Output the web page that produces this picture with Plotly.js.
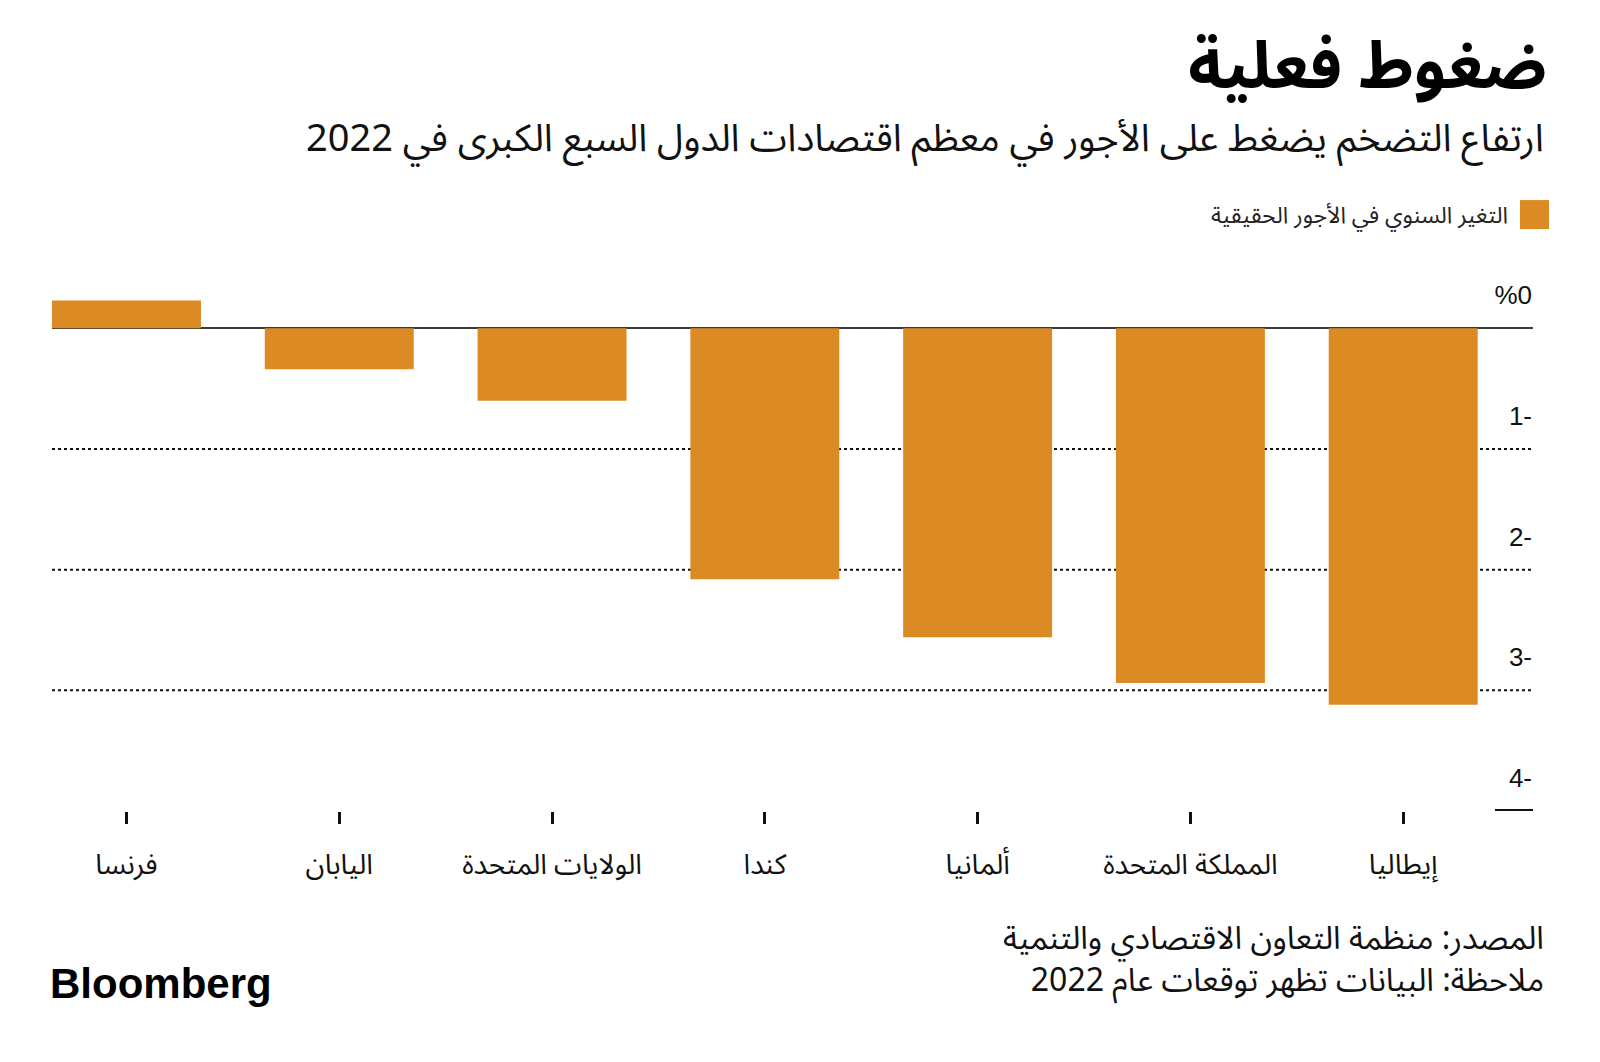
<!DOCTYPE html>
<html>
<head>
<meta charset="utf-8">
<script src="https://cdn.plot.ly/plotly-3.0.1.min.js"></script>
<style>
  html, body { margin: 0; padding: 0; background: #ffffff; }
  #chart { width: 1600px; height: 1062px; }
</style>
</head>
<body>
<div id="chart"></div>
<script>
// ---- Data ----
const countries = ['فرنسا', 'اليابان', 'الولايات المتحدة', 'كندا', 'ألمانيا', 'المملكة المتحدة', 'إيطاليا'];
const wageChange = [0.23, -0.34, -0.60, -2.08, -2.56, -2.94, -3.12];
const seriesName = 'التغير السنوي في الأجور الحقيقية';
const yTickVals = [0, -1, -2, -3, -4];
const yTickText = ['%0', '1-', '2-', '3-', '4-'];
const gridVals = [-1, -2, -3];

const titleText = 'ضغوط فعلية';
const subtitleText = 'ارتفاع التضخم يضغط على الأجور في معظم اقتصادات الدول السبع الكبرى في 2022';
const sourceText = 'المصدر: منظمة التعاون الاقتصادي والتنمية';
const noteText = 'ملاحظة: البيانات تظهر توقعات عام 2022';
const logoText = 'Bloomberg';

// ---- Style ----
const RTL = s => '\u202B' + s + '\u202C';
const arabicFont = '"Noto Sans Arabic", "Noto Kufi Arabic", "DejaVu Sans", sans-serif';
const latinFont = '"Liberation Sans", Arial, Helvetica, sans-serif';
const barColor = '#DB8A24';

const W = 1600, H = 1062;
const M = { l: 52, r: 67, t: 280, b: 250.5 };
const plotW = W - M.l - M.r, plotH = H - M.t - M.b;
const px = x => (x - M.l) / plotW;
const py = y => (H - M.b - y) / plotH;

const trace = {
  type: 'bar',
  x: countries,
  y: wageChange,
  name: seriesName,
  width: 0.7,
  marker: { color: barColor, line: { width: 0 } },
  hoverinfo: 'x+y',
  showlegend: false
};

const shapes = gridVals.map(v => ({
  type: 'line', layer: 'below', xref: 'paper', yref: 'y',
  x0: 0, x1: 1, y0: v, y1: v,
  line: { color: '#111111', width: 2, dash: 'dot' }
}));
// short black base marker at the axis minimum
shapes.push({
  type: 'line', layer: 'above', xref: 'paper', yref: 'y',
  x0: px(1495), x1: 1, y0: yTickVals[yTickVals.length - 1], y1: yTickVals[yTickVals.length - 1],
  line: { color: '#111111', width: 4 }
});
// legend swatch
shapes.push({
  type: 'rect', xref: 'paper', yref: 'paper',
  x0: px(1520), x1: px(1549), y0: py(229), y1: py(200),
  fillcolor: barColor, line: { width: 0 }
});

const annotations = [
  { text: RTL(subtitleText), xref: 'paper', yref: 'paper', x: px(1546), y: py(139),
    xanchor: 'right', yanchor: 'middle', showarrow: false,
    font: { family: arabicFont, size: 38, color: '#111111' } },
  { text: RTL(seriesName), xref: 'paper', yref: 'paper', x: px(1510), y: py(215),
    xanchor: 'right', yanchor: 'middle', showarrow: false,
    font: { family: arabicFont, size: 23, color: '#222222' } },
  { text: RTL(sourceText) + '<br>' + RTL(noteText), xref: 'paper', yref: 'paper', x: px(1546), y: py(961),
    xanchor: 'right', yanchor: 'middle', align: 'right', showarrow: false,
    font: { family: arabicFont, size: 32, color: '#111111' } },
  { text: '<b>' + logoText + '</b>', xref: 'paper', yref: 'paper', x: px(48), y: py(984),
    xanchor: 'left', yanchor: 'middle', showarrow: false,
    font: { family: latinFont, size: 42, color: '#000000' } }
];

const layout = {
  width: W, height: H,
  margin: M,
  paper_bgcolor: '#ffffff', plot_bgcolor: '#ffffff',
  title: {
    text: '<b>' + RTL(titleText) + '</b>',
    xref: 'container', yref: 'container',
    x: 1547 / W, xanchor: 'right',
    y: 1 - 65 / H, yanchor: 'middle',
    font: { family: arabicFont, size: 65, color: '#000000', weight: 900 }
  },
  showlegend: false,
  bargap: 0.3,
  xaxis: {
    type: 'category',
    range: [-0.35, 6.61],
    showgrid: false, zeroline: false, showline: false,
    ticks: 'outside', ticklen: 12, tickwidth: 3, tickcolor: '#111111',
    ticklabelstandoff: 16,
    tickfont: { family: arabicFont, size: 28, color: '#111111' },
    fixedrange: true
  },
  yaxis: {
    range: [-4, 0.4],
    side: 'right',
    tickvals: yTickVals, ticktext: yTickText,
    ticklabelposition: 'inside',
    ticklabelshift: -33,
    ticklabelstandoff: -2,
    ticks: '',
    showgrid: false,
    zeroline: true, zerolinecolor: '#3a3a3a', zerolinewidth: 2,
    showline: false,
    tickfont: { family: latinFont, size: 26, color: '#111111' },
    fixedrange: true
  },
  shapes: shapes,
  annotations: annotations
};

Plotly.newPlot('chart', [trace], layout, { displayModeBar: false, staticPlot: true });
</script>
</body>
</html>
